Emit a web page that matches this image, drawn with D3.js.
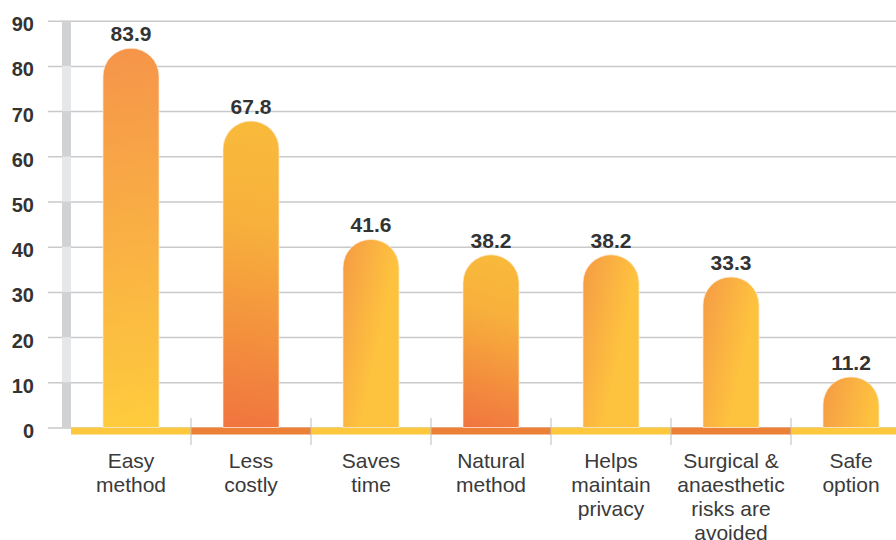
<!DOCTYPE html>
<html>
<head>
<meta charset="utf-8">
<script src="https://cdn.jsdelivr.net/npm/d3@7"></script>
<style>
  html, body { margin: 0; padding: 0; background: #fff; }
  svg { display: block; font-family: "Liberation Sans", Arial, sans-serif; }
</style>
</head>
<body>
<svg id="chart" width="896" height="540"></svg>
<script>
// ---- data ----
const categories = [
  "Easy\nmethod",
  "Less\ncostly",
  "Saves\ntime",
  "Natural\nmethod",
  "Helps\nmaintain\nprivacy",
  "Surgical &\nanaesthetic\nrisks are\navoided",
  "Safe\noption"
];
const values = [83.9, 67.8, 41.6, 38.2, 38.2, 33.3, 11.2];
const yTicks = [0, 10, 20, 30, 40, 50, 60, 70, 80, 90];

// ---- layout ----
const W = 896, H = 540;
const svg = d3.select("#chart");
const defs = svg.append("defs");

const x = d3.scaleBand().domain(categories).range([71, 911]).padding(0);
const y = d3.scaleLinear().domain([0, 90]).range([427.5, 20.7]);
const barFrac = 56 / 120;

// gradient styles per bar
const gradStyle = ["diagA", "diagB", "horiz", "diagB", "horiz", "horiz", "horiz"];
const segColors = ["#fec83e", "#ec8036"];

// y axis with gridlines
const yAxis = svg.append("g")
  .attr("transform", "translate(48,0)")
  .call(d3.axisLeft(y).tickValues(yTicks).tickSize(-(W - 48)).tickPadding(14).tickFormat(d3.format("d")));
yAxis.select(".domain").remove();
yAxis.selectAll(".tick line").attr("stroke", "#c9c9c9").attr("stroke-width", 1.5);
yAxis.selectAll(".tick text")
  .attr("fill", "#333")
  .attr("font-size", 20)
  .attr("font-weight", "bold")
  .attr("font-family", "'Liberation Sans', Arial, sans-serif")
  .attr("dy", "0.5em");

// wall (alternating grey bands)
const wall = svg.append("g");
yTicks.slice(0, -1).forEach((v) => {
  wall.append("rect")
    .attr("x", 62).attr("width", 9)
    .attr("y", y(v + 10)).attr("height", y(v) - y(v + 10))
    .attr("fill", (v / 10) % 2 === 0 ? "#d1d2d4" : "#e6e7e8");
});

// base band segments
svg.append("g").selectAll("rect").data(categories).join("rect")
  .attr("x", d => x(d))
  .attr("width", x.bandwidth())
  .attr("y", y(0))
  .attr("height", 7)
  .attr("fill", (d, i) => segColors[i % 2]);

// separator ticks
svg.append("g").selectAll("line").data(categories.slice(1)).join("line")
  .attr("x1", d => x(d)).attr("x2", d => x(d))
  .attr("y1", 418).attr("y2", 445)
  .attr("stroke", "#bdbdbd").attr("stroke-width", 1);

// bars
const bw = x.bandwidth() * barFrac;
const bars = svg.append("g");
categories.forEach((c, i) => {
  const x0 = x(c) + (x.bandwidth() - bw) / 2;
  const x1 = x0 + bw;
  const top = y(values[i]);
  const bot = y(0);
  const r = bw / 2;
  const id = "g" + i;
  const g = defs.append("linearGradient").attr("id", id).attr("gradientUnits", "userSpaceOnUse");
  const st = gradStyle[i];
  if (st === "diagA") {
    g.attr("x1", x0).attr("y1", top).attr("x2", x1).attr("y2", bot);
    g.append("stop").attr("offset", 0).attr("stop-color", "#f5944a");
    g.append("stop").attr("offset", 1).attr("stop-color", "#fecc3d");
  } else if (st === "diagB") {
    g.attr("x1", x1).attr("y1", top).attr("x2", x0).attr("y2", bot);
    g.append("stop").attr("offset", 0).attr("stop-color", "#f9bb3b");
    g.append("stop").attr("offset", 0.35).attr("stop-color", "#f7b03c");
    g.append("stop").attr("offset", 1).attr("stop-color", "#f0743f");
  } else {
    g.attr("x1", x0).attr("y1", top).attr("x2", x1).attr("y2", top + 12);
    g.append("stop").attr("offset", 0).attr("stop-color", "#f59a46");
    g.append("stop").attr("offset", 1).attr("stop-color", "#fec33e");
  }
  const p = d3.path();
  p.moveTo(x0, bot);
  p.lineTo(x0, top + r);
  p.arc(x0 + r, top + r, r, Math.PI, 0);
  p.lineTo(x1, bot);
  p.closePath();
  bars.append("path")
    .attr("d", p.toString())
    .attr("fill", `url(#${id})`)
    .attr("stroke", "rgba(255,235,215,0.7)")
    .attr("stroke-width", 1);
});

// value labels
svg.append("g").selectAll("text").data(categories).join("text")
  .attr("x", d => x(d) + x.bandwidth() / 2)
  .attr("y", (d, i) => y(values[i]) - 7)
  .attr("text-anchor", "middle")
  .attr("font-size", 21)
  .attr("font-weight", "bold")
  .attr("fill", "#333")
  .text((d, i) => values[i].toFixed(1));

// category labels
const lab = svg.append("g").selectAll("text").data(categories).join("text")
  .attr("x", d => x(d) + x.bandwidth() / 2)
  .attr("y", 468)
  .attr("text-anchor", "middle")
  .attr("font-size", 21)
  .attr("fill", "#3a3a3a");
lab.each(function(d) {
  const t = d3.select(this);
  d.split("\n").forEach((line, k) => {
    t.append("tspan")
      .attr("x", x(d) + x.bandwidth() / 2)
      .attr("y", 468 + k * 24)
      .text(line);
  });
});
</script>
</body>
</html>
